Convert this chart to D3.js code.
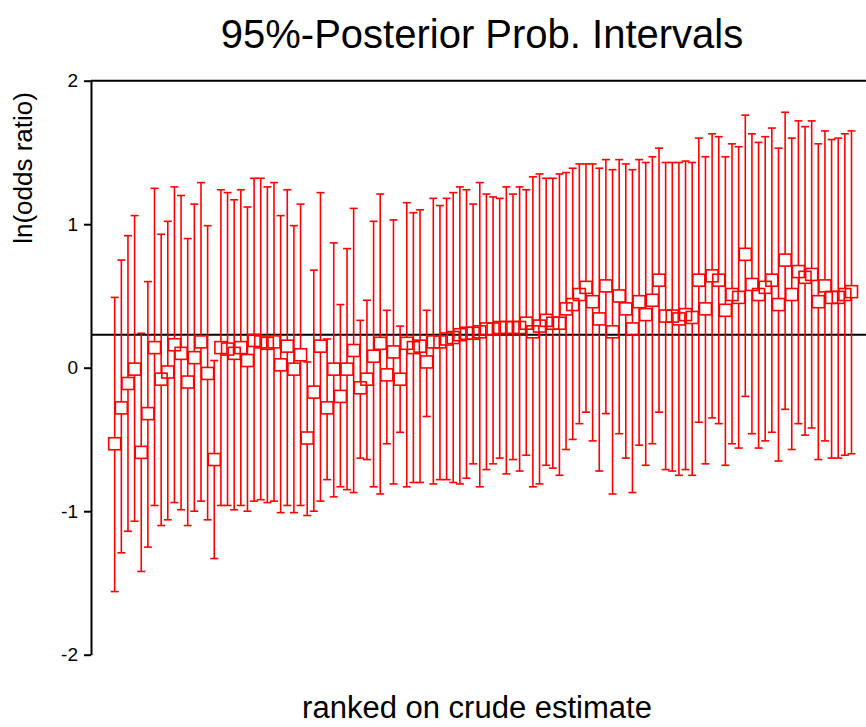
<!DOCTYPE html>
<html>
<head>
<meta charset="utf-8">
<script src="https://cdn.jsdelivr.net/npm/d3@7"></script>
<style>
  body { margin: 0; background: #fff; }
  text { font-family: Arial, "Liberation Sans", sans-serif; }
</style>
</head>
<body>
<svg id="chart" width="866" height="727"></svg>
<script>
// posterior medians (boxes), ranked on crude estimate
const mids = [-0.53,-0.28,-0.11,-0.01,-0.59,-0.32,0.14,-0.08,-0.03,0.16,
  0.10,-0.10,0.07,0.18,-0.04,-0.64,0.14,0.13,0.10,0.14,
  0.05,0.19,0.18,0.17,0.18,0.02,0.15,-0.01,0.09,-0.49,
  -0.17,0.15,-0.28,-0.01,-0.20,-0.01,0.12,-0.14,-0.08,0.08,
  0.17,-0.05,0.11,-0.08,0.17,0.14,0.15,0.04,0.18,0.18,
  0.20,0.21,0.23,0.24,0.24,0.25,0.27,0.27,0.28,0.28,
  0.28,0.28,0.31,0.25,0.29,0.33,0.31,0.31,0.41,0.44,
  0.51,0.56,0.46,0.34,0.57,0.25,0.50,0.41,0.27,0.46,
  0.37,0.47,0.61,0.36,0.36,0.34,0.37,0.35,0.61,0.41,
  0.64,0.61,0.40,0.51,0.49,0.79,0.58,0.51,0.56,0.61,
  0.44,0.75,0.51,0.67,0.63,0.65,0.46,0.57,0.49,0.49,
  0.51,0.53];
// lower 2.5% limits
const lows = [-1.56,-1.29,-1.14,-1.07,-1.42,-1.25,-0.96,-1.10,-1.06,-0.94,
  -0.99,-1.10,-1.00,-0.93,-1.06,-1.33,-0.96,-0.96,-0.99,-0.96,
  -1.00,-0.93,-0.92,-0.94,-0.93,-1.01,-0.96,-1.01,-0.96,-1.03,
  -1.00,-0.93,-0.78,-0.90,-0.83,-0.85,-0.87,-0.63,-0.64,-0.83,
  -0.88,-0.53,-0.81,-0.45,-0.83,-0.80,-0.80,-0.34,-0.81,-0.78,
  -0.78,-0.80,-0.81,-0.77,-0.67,-0.83,-0.71,-0.67,-0.63,-0.74,
  -0.64,-0.72,-0.61,-0.83,-0.81,-0.68,-0.70,-0.75,-0.57,-0.50,
  -0.39,-0.31,-0.51,-0.72,-0.32,-0.88,-0.46,-0.63,-0.87,-0.54,
  -0.68,-0.53,-0.31,-0.71,-0.72,-0.75,-0.71,-0.75,-0.38,-0.67,
  -0.35,-0.39,-0.68,-0.53,-0.56,-0.20,-0.46,-0.56,-0.51,-0.45,
  -0.65,-0.29,-0.57,-0.39,-0.47,-0.42,-0.64,-0.51,-0.63,-0.63,
  -0.61,-0.60];
// upper 97.5% limits
const highs = [0.49,0.75,0.92,1.06,0.24,0.60,1.25,0.93,1.02,1.26,
  1.20,0.90,1.14,1.29,0.99,0.05,1.24,1.22,1.17,1.24,
  1.12,1.32,1.32,1.26,1.29,1.06,1.24,0.99,1.14,0.04,
  0.68,1.22,0.20,0.87,0.44,0.83,1.11,0.33,0.47,1.02,
  1.21,0.40,1.03,0.29,1.15,1.08,1.10,0.40,1.18,1.13,
  1.18,1.22,1.26,1.24,1.14,1.29,1.21,1.19,1.18,1.26,
  1.21,1.26,1.24,1.33,1.35,1.32,1.32,1.35,1.36,1.39,
  1.42,1.42,1.42,1.39,1.45,1.38,1.45,1.42,1.38,1.45,
  1.43,1.47,1.53,1.43,1.43,1.43,1.44,1.43,1.60,1.47,
  1.63,1.61,1.47,1.56,1.54,1.76,1.63,1.57,1.61,1.67,
  1.53,1.78,1.60,1.72,1.68,1.72,1.56,1.65,1.59,1.60,
  1.63,1.65];
const refValue = 0.23;
const yTicks = [-2, -1, 0, 1, 2];

const data = mids.map(function(d, i) {
  return {rank: i + 1, mid: d, lo: lows[i], hi: highs[i]};
});

var svg = d3.select("#chart");
var red = "#ff0000";
var boxHalf = 6, capHalf = 4;

var x = d3.scaleLinear().domain([1, data.length]).range([114.7, 851.5]);
var y = d3.scaleLinear().domain([-2, 2]).range([654.7, 80.7]);

// frame: top border and left axis
svg.append("line").attr("x1", 91).attr("x2", 866).attr("y1", y(2)).attr("y2", y(2))
  .attr("stroke", "#000").attr("stroke-width", 2);

var yAxis = svg.append("g").attr("transform", "translate(91,0)")
  .call(d3.axisLeft(y).tickValues(yTicks).tickSize(7).tickSizeOuter(0).tickPadding(6)
    .tickFormat(function(d) { return String(d); }));
yAxis.select(".domain").attr("stroke-width", 2);
yAxis.selectAll(".tick line").attr("stroke-width", 2);
yAxis.selectAll(".tick text").style("font-size", "19px").attr("fill", "#000")
  .style("font-family", "Arial, 'Liberation Sans', sans-serif");

// reference line
svg.append("line").attr("x1", 91).attr("x2", 866).attr("y1", y(refValue)).attr("y2", y(refValue))
  .attr("stroke", "#000").attr("stroke-width", 2);

var g = svg.append("g").attr("stroke", red).attr("stroke-width", 1.6).attr("fill", "none");

var bars = g.selectAll(".bar").data(data).enter().append("g").attr("class", "bar");

// upper whisker
bars.append("line")
  .attr("x1", function(d) { return x(d.rank); }).attr("x2", function(d) { return x(d.rank); })
  .attr("y1", function(d) { return y(d.hi); })
  .attr("y2", function(d) { return Math.min(y(d.mid) - boxHalf, y(d.lo)); });
// lower whisker
bars.append("line")
  .attr("x1", function(d) { return x(d.rank); }).attr("x2", function(d) { return x(d.rank); })
  .attr("y1", function(d) { return y(d.mid) + boxHalf; })
  .attr("y2", function(d) { return y(d.lo); });
// caps
bars.append("line")
  .attr("x1", function(d) { return x(d.rank) - capHalf; }).attr("x2", function(d) { return x(d.rank) + capHalf; })
  .attr("y1", function(d) { return y(d.hi); }).attr("y2", function(d) { return y(d.hi); });
bars.append("line")
  .attr("x1", function(d) { return x(d.rank) - capHalf; }).attr("x2", function(d) { return x(d.rank) + capHalf; })
  .attr("y1", function(d) { return y(d.lo); }).attr("y2", function(d) { return y(d.lo); });
// median boxes
bars.append("rect")
  .attr("x", function(d) { return x(d.rank) - boxHalf; })
  .attr("y", function(d) { return y(d.mid) - boxHalf; })
  .attr("width", boxHalf * 2).attr("height", boxHalf * 2);

// titles
svg.append("text").attr("text-anchor", "middle").attr("x", 482).attr("y", 48)
  .style("font-size", "40px").text("95%-Posterior Prob. Intervals");
svg.append("text").attr("text-anchor", "middle").attr("x", 477).attr("y", 718)
  .style("font-size", "31px").text("ranked on crude estimate");
svg.append("text").attr("text-anchor", "middle").attr("transform", "translate(32,168) rotate(-90)")
  .style("font-size", "26px").text("ln(odds ratio)");
</script>
</body>
</html>
